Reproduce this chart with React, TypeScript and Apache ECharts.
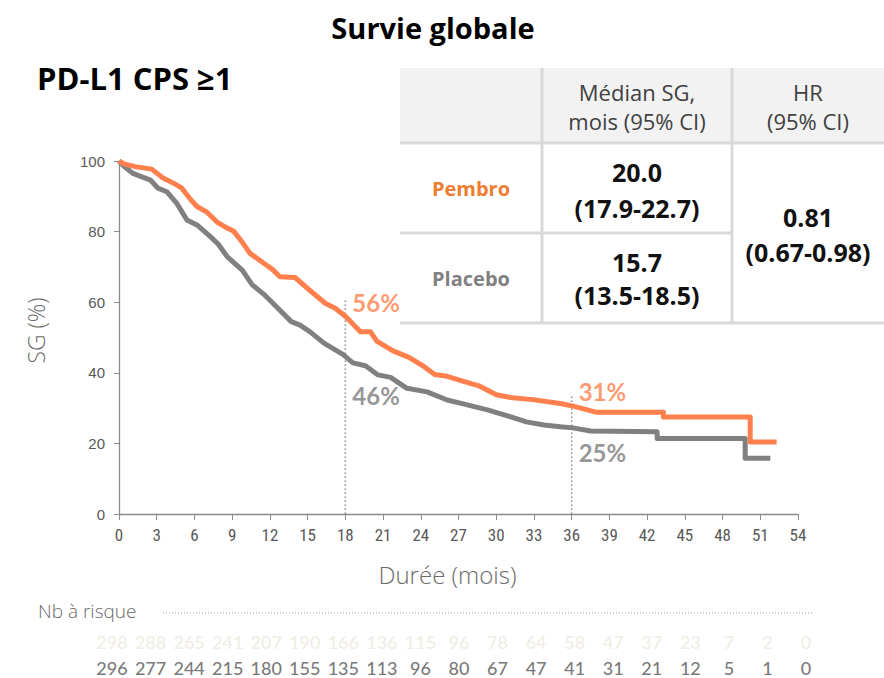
import React, { useEffect, useRef } from "react";
import * as echarts from "echarts";

// Kaplan-Meier curves: [month, OS %]
const pembroOS: number[][] = [
  [0, 100], [0.4, 99.2], [1.3, 98.4], [2.6, 97.7], [3.5, 95.2], [4.3, 93.8], [5.0, 92.3],
  [5.6, 89.5], [6.2, 87.1], [7.0, 85.5], [7.8, 82.7], [8.5, 81.2], [9.1, 80.2], [9.8, 77],
  [10.4, 73.9], [11.6, 70.8], [12.2, 69.3], [12.8, 67.2], [14.0, 67.0], [15.2, 63.3],
  [16.4, 59.7], [17.2, 58.3], [18.0, 56.0], [19.2, 51.6], [20.0, 51.6], [20.5, 49.0],
  [21.8, 46.2], [23.1, 44.3], [24.2, 41.9], [25.1, 39.5], [26.1, 39.0], [27.4, 37.6],
  [28.7, 36.2], [30.0, 33.8], [31.3, 32.9], [32.9, 32.4], [35.1, 31.3], [36.2, 30.5],
  [38.0, 28.8], [43.3, 28.8], [43.3, 27.5], [50.2, 27.5], [50.2, 20.4], [52.3, 20.4],
];
const placeboOS: number[][] = [
  [0, 100], [0.4, 98.5], [1.1, 96.5], [2.5, 94.6], [3.1, 92.3], [3.8, 91.3], [4.6, 88.0],
  [5.4, 83.3], [6.2, 81.9], [7.2, 78.8], [7.9, 76.4], [8.6, 72.9], [9.8, 69.1], [10.6, 64.9],
  [11.5, 62.3], [12.3, 59.5], [13.7, 54.5], [14.4, 53.5], [15.2, 51.6], [16.3, 48.4],
  [17.8, 45.2], [18.6, 42.8], [19.6, 42.0], [20.6, 39.4], [21.6, 38.7], [22.9, 35.6],
  [24.5, 34.6], [26.1, 32.3], [27.7, 30.9], [29.3, 29.5], [31.1, 27.6], [32.4, 26.1],
  [33.8, 25.2], [35.1, 24.7], [36.1, 24.4], [37.5, 23.5], [42.8, 23.3], [42.8, 21.4],
  [49.8, 21.4], [49.8, 15.8], [51.8, 15.8],
];

// Landmark markers (dotted verticals) and annotations
const landmark18: number[][] = [[18, 0], [18, 61]];
const landmark36: number[][] = [[36, 0], [36, 33.8]];
const pembroNotes: (number | string)[][] = [[18, 60, "56%"], [36, 34.8, "31%"]];
const placeboNotes: (number | string)[][] = [[18, 33.7, "46%"], [36, 17.3, "25%"]];

// Number at risk
const riskMonths = [0, 3, 6, 9, 12, 15, 18, 21, 24, 27, 30, 33, 36, 39, 42, 45, 48, 51, 54];
const riskPembro = [298, 288, 265, 241, 207, 190, 166, 136, 115, 96, 78, 64, 58, 47, 37, 23, 7, 2, 0];
const riskPlacebo = [296, 277, 244, 215, 180, 155, 135, 113, 96, 80, 67, 47, 41, 31, 21, 12, 5, 1, 0];

// Summary table
const tableHeader = [["Médian SG,", "mois (95% CI)"], ["HR", "(95% CI)"]];
const armNames = ["Pembro", "Placebo"];
const medianOS = [["20.0", "(17.9-22.7)"], ["15.7", "(13.5-18.5)"]];
const hazardRatio = ["0.81", "(0.67-0.98)"];

const ORANGE = "#FF7F4D";
const ORANGE_TXT = "#ED7D31";
const GRAY = "#7A7A7A";
const CAL = "'Open Sans', 'Noto Sans', sans-serif";
const NARROW = "'Liberation Sans Narrow', 'Roboto Condensed', 'Liberation Sans', sans-serif";
const GOTH = "Lato, 'Noto Sans', sans-serif";

export default function App() {
  const ref = useRef<HTMLDivElement>(null);
  useEffect(() => {
    if (!ref.current) return;
    const chart = echarts.init(ref.current, undefined, { renderer: "svg" });
    const lineCol = "#D9D9D9";
    const graphic: any[] = [
      { type: "text", style: { text: "Survie globale", x: 433, y: 27, textAlign: "center", textVerticalAlign: "middle", font: `bold 29px ${CAL}`, fill: "#000" } },
      { type: "text", style: { text: "PD-L1 CPS ≥1", x: 37, y: 78, textAlign: "left", textVerticalAlign: "middle", font: `bold 31px ${CAL}`, fill: "#000" } },
      { type: "rect", shape: { x: 400, y: 68, width: 484, height: 75 }, style: { fill: "#F2F2F2" } },
      { type: "line", shape: { x1: 400, y1: 143, x2: 884, y2: 143 }, style: { stroke: lineCol, lineWidth: 3 } },
      { type: "line", shape: { x1: 400, y1: 233, x2: 732, y2: 233 }, style: { stroke: lineCol, lineWidth: 3 } },
      { type: "line", shape: { x1: 400, y1: 323, x2: 884, y2: 323 }, style: { stroke: lineCol, lineWidth: 3 } },
      { type: "line", shape: { x1: 542, y1: 68, x2: 542, y2: 323 }, style: { stroke: lineCol, lineWidth: 3 } },
      { type: "line", shape: { x1: 732, y1: 68, x2: 732, y2: 323 }, style: { stroke: lineCol, lineWidth: 3 } },
      { type: "text", style: { text: tableHeader[0].join("\n"), x: 637, y: 106, textAlign: "center", textVerticalAlign: "middle", font: `22px ${CAL}`, lineHeight: 29, fill: "#404040" } },
      { type: "text", style: { text: tableHeader[1].join("\n"), x: 808, y: 106, textAlign: "center", textVerticalAlign: "middle", font: `22px ${CAL}`, lineHeight: 29, fill: "#404040" } },
      { type: "text", style: { text: armNames[0], x: 471, y: 188, textAlign: "center", textVerticalAlign: "middle", font: `bold 20px ${CAL}`, fill: ORANGE_TXT } },
      { type: "text", style: { text: armNames[1], x: 471, y: 278, textAlign: "center", textVerticalAlign: "middle", font: `bold 20px ${CAL}`, fill: "#808080" } },
      { type: "text", style: { text: medianOS[0].join("\n"), x: 637, y: 190, textAlign: "center", textVerticalAlign: "middle", font: `bold 25px ${CAL}`, lineHeight: 36, fill: "#111" } },
      { type: "text", style: { text: medianOS[1].join("\n"), x: 637, y: 278, textAlign: "center", textVerticalAlign: "middle", font: `bold 25px ${CAL}`, lineHeight: 33, fill: "#111" } },
      { type: "text", style: { text: hazardRatio.join("\n"), x: 808, y: 234, textAlign: "center", textVerticalAlign: "middle", font: `bold 25px ${CAL}`, lineHeight: 35, fill: "#111" } },
      { type: "text", style: { text: "Nb à risque", x: 38, y: 611, textAlign: "left", textVerticalAlign: "middle", font: `300 19px ${CAL}`, fill: "#6A6A6A" } },
      { type: "line", shape: { x1: 163, y1: 613, x2: 813, y2: 613 }, style: { stroke: "#9A9A9A", lineWidth: 1, lineDash: [1, 2] } },
    ];

    const series: any[] = [
      { type: "line", name: "Placebo", data: placeboOS, xAxisIndex: 0, yAxisIndex: 0, showSymbol: false, symbol: "none", lineStyle: { color: "#808080", width: 5, join: "round" }, z: 3 },
      { type: "line", name: "Pembro", data: pembroOS, xAxisIndex: 0, yAxisIndex: 0, showSymbol: false, symbol: "none", lineStyle: { color: ORANGE, width: 5, join: "round" }, z: 4 },
      { type: "line", data: landmark18, symbol: "none", lineStyle: { color: "#8A8A8A", width: 1.5, type: [1.5, 2.5] }, z: 2 },
      { type: "line", data: landmark36, symbol: "none", lineStyle: { color: "#8A8A8A", width: 1.5, type: [1.5, 2.5] }, z: 2 },
      {
        type: "scatter", data: pembroNotes, symbolSize: 0, z: 5,
        label: { show: true, position: "right", distance: 7, formatter: (p: any) => p.value[2], color: ORANGE, fontFamily: GOTH, fontWeight: "bold", fontSize: 24 },
      },
      {
        type: "scatter", data: placeboNotes, symbolSize: 0, z: 5,
        label: { show: true, position: "right", distance: 7, formatter: (p: any) => p.value[2], color: GRAY, fontFamily: GOTH, fontWeight: "bold", fontSize: 24 },
      },
      {
        type: "scatter", xAxisIndex: 1, yAxisIndex: 1, symbolSize: 0,
        data: riskMonths.map((m, i) => [m, 1, riskPembro[i]]),
        label: { show: true, position: "inside", formatter: (p: any) => String(p.value[2]), color: "#ECE9DD", fontFamily: GOTH, fontSize: 18, fontWeight: 500 },
      },
      {
        type: "scatter", xAxisIndex: 1, yAxisIndex: 1, symbolSize: 0,
        data: riskMonths.map((m, i) => [m, 0, riskPlacebo[i]]),
        label: { show: true, position: "inside", formatter: (p: any) => String(p.value[2]), color: "#555555", fontFamily: GOTH, fontSize: 18, fontWeight: 500 },
      },
    ];

    chart.setOption({
      animation: false,
      backgroundColor: "#fff",
      grid: [
        { left: 119, right: 86, top: 161, bottom: 164, containLabel: false },
        { left: 112, width: 694, top: 642, height: 26, containLabel: false },
      ],
      xAxis: [
        {
          type: "value", gridIndex: 0, min: 0, max: 54, interval: 3,
          name: "Durée (mois)", nameLocation: "middle", nameGap: 48,
          nameTextStyle: { fontFamily: CAL, fontWeight: 300, fontSize: 24, color: "#6A6A6A", padding: [0, 22, 0, 0] },
          axisLine: { show: true, lineStyle: { color: "#8C8C8C", width: 1.3 } },
          axisTick: { show: true, length: 6, lineStyle: { color: "#8C8C8C" } },
          axisLabel: { margin: 12, fontFamily: NARROW, fontSize: 17, color: "#595959" },
          splitLine: { show: false },
        },
        { type: "value", gridIndex: 1, min: 0, max: 54, show: false },
      ],
      yAxis: [
        {
          type: "value", gridIndex: 0, min: 0, max: 100, interval: 20,
          name: "SG (%)", nameLocation: "middle", nameGap: 72, nameRotate: 90,
          nameTextStyle: { fontFamily: CAL, fontWeight: 300, fontSize: 23, color: "#6A6A6A", padding: [0, 0, 0, 14] },
          axisLine: { show: true, lineStyle: { color: "#8C8C8C", width: 1.3 } },
          axisTick: { show: true, length: 5, lineStyle: { color: "#8C8C8C" } },
          axisLabel: { margin: 14, fontFamily: "'Liberation Sans', Arial, sans-serif", fontSize: 15, color: "#595959" },
          splitLine: { show: false },
        },
        { type: "value", gridIndex: 1, min: 0, max: 1, show: false },
      ],
      series,
      graphic,
    });
    return () => chart.dispose();
  }, []);
  return <div ref={ref} style={{ position: "absolute", left: 0, top: 0, width: 884, height: 678 }} />;
}
